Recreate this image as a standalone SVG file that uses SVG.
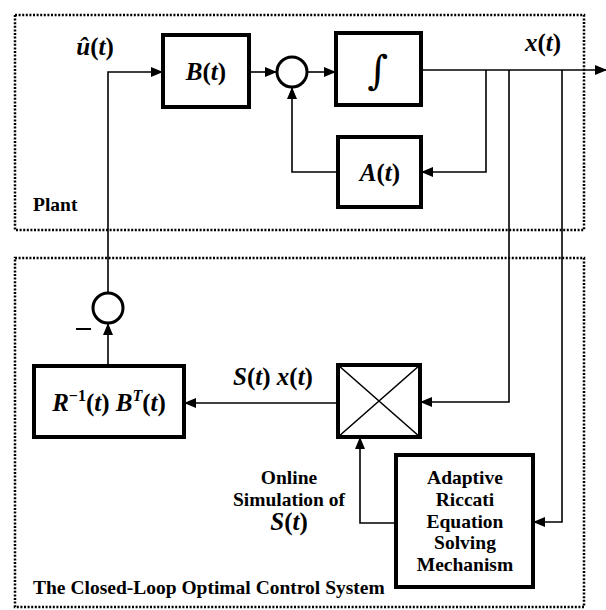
<svg xmlns="http://www.w3.org/2000/svg" width="606" height="610" viewBox="0 0 606 610">
<style>
.frame{fill:none;stroke:#000;stroke-width:2.5;stroke-dasharray:2 1.6}
.blk{fill:#fff;stroke:#000;stroke-width:4}
.sum{fill:#fff;stroke:#000;stroke-width:3}
.wire{fill:none;stroke:#000;stroke-width:1.6}
.m{font-family:"Liberation Serif","DejaVu Serif",serif;font-weight:bold;font-size:25px;fill:#000}
.i{font-style:italic}
.lbl{font-family:"Liberation Serif","DejaVu Serif",serif;font-weight:bold;font-size:19.5px;fill:#000}
</style>
<defs>
<marker id="ah" markerWidth="12" markerHeight="10" refX="11" refY="5" orient="auto" markerUnits="userSpaceOnUse">
<path d="M0,0 L12,5 L0,10 z" fill="#000"/>
</marker>
</defs>
<rect width="606" height="610" fill="#fff"/>
<g id="plant-frame">
<rect class="frame" x="15" y="15" width="569" height="215"/>
<text class="lbl" x="33" y="211">Plant</text>
</g>
<g id="control-frame">
<rect class="frame" x="15" y="258" width="569" height="349"/>
<text class="lbl" x="33" y="594">The Closed-Loop Optimal Control System</text>
</g>
<g id="connectors">
<path class="wire" d="M108,293 V72 H162" marker-end="url(#ah)"/>
<path class="wire" d="M249,72 H276" marker-end="url(#ah)"/>
<path class="wire" d="M307,72 H335" marker-end="url(#ah)"/>
<path class="wire" d="M421,70 H606" marker-end="url(#ah)"/>
<path class="wire" d="M486,70 V172 H422" marker-end="url(#ah)"/>
<path class="wire" d="M338,172 H292 V88" marker-end="url(#ah)"/>
<path class="wire" d="M509,70 V402 H421" marker-end="url(#ah)"/>
<path class="wire" d="M562,70 V522 H534" marker-end="url(#ah)"/>
<path class="wire" d="M338,403 H185" marker-end="url(#ah)"/>
<path class="wire" d="M108,366 V324" marker-end="url(#ah)"/>
<path class="wire" d="M396,523 H360 V438" marker-end="url(#ah)"/>
</g>
<g id="u-label"><text class="m" x="95" y="55" text-anchor="middle"><tspan class="i">û</tspan>(<tspan class="i">t</tspan>)</text></g>
<g id="x-label"><text class="m" x="543" y="51" text-anchor="middle"><tspan class="i">x</tspan>(<tspan class="i">t</tspan>)</text></g>
<g id="B">
<rect class="blk" x="163" y="35" width="86" height="72"/>
<text class="m" x="206" y="80" text-anchor="middle"><tspan class="i">B</tspan>(<tspan class="i">t</tspan>)</text>
</g>
<g id="sum1"><circle class="sum" cx="292" cy="72" r="15"/></g>
<g id="integrator">
<rect class="blk" x="336" y="33" width="85" height="72"/>
<text x="378" y="84" text-anchor="middle" font-family="'DejaVu Serif',serif" font-size="40" font-style="italic">∫</text>
</g>
<g id="A">
<rect class="blk" x="338" y="137" width="83" height="70"/>
<text class="m" x="380" y="181" text-anchor="middle"><tspan class="i">A</tspan>(<tspan class="i">t</tspan>)</text>
</g>
<g id="sum2">
<circle class="sum" cx="108" cy="308" r="15"/>
<line x1="76" y1="329" x2="91" y2="329" stroke="#000" stroke-width="2"/>
</g>
<g id="gain">
<rect class="blk" x="34" y="366" width="150" height="71"/>
<text class="m" x="109" y="411" text-anchor="middle"><tspan class="i">R</tspan><tspan font-size="16" dy="-10">−1</tspan><tspan dy="10">(</tspan><tspan class="i">t</tspan>) <tspan class="i">B</tspan><tspan class="i" font-size="16" dy="-10">T</tspan><tspan dy="10">(</tspan><tspan class="i">t</tspan>)</text>
</g>
<g id="sx-label"><text class="m" x="273" y="385" text-anchor="middle"><tspan class="i">S</tspan>(<tspan class="i">t</tspan>) <tspan class="i">x</tspan>(<tspan class="i">t</tspan>)</text></g>
<g id="multiplier">
<rect class="blk" x="338" y="365" width="82" height="72"/>
<path d="M338,365 L420,437 M420,365 L338,437" stroke="#000" stroke-width="1.6"/>
</g>
<g id="online-label">
<text class="lbl" x="289" y="484" text-anchor="middle">Online</text>
<text class="lbl" x="289" y="506" text-anchor="middle">Simulation of</text>
<text class="m" x="289" y="530" text-anchor="middle"><tspan class="i">S</tspan>(<tspan class="i">t</tspan>)</text>
</g>
<g id="riccati">
<rect class="blk" x="396" y="455" width="137" height="132"/>
<text class="lbl" x="465" y="484" text-anchor="middle">Adaptive</text>
<text class="lbl" x="465" y="506" text-anchor="middle">Riccati</text>
<text class="lbl" x="465" y="528" text-anchor="middle">Equation</text>
<text class="lbl" x="465" y="549" text-anchor="middle">Solving</text>
<text class="lbl" x="465" y="571" text-anchor="middle">Mechanism</text>
</g>
</svg>
